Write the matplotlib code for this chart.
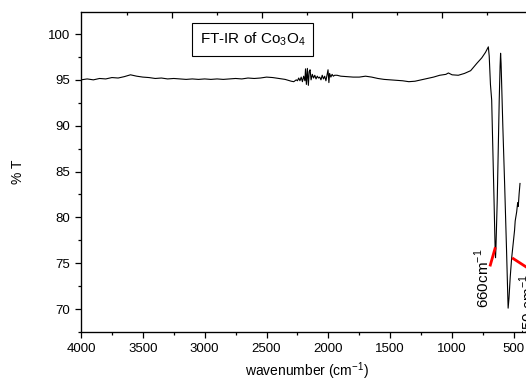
import numpy as np
import matplotlib
matplotlib.use('Agg')
import matplotlib.pyplot as plt

plt.rcParams['font.family'] = ['Liberation Sans', 'DejaVu Sans']
plt.rcParams['mathtext.fontset'] = 'custom'
plt.rcParams['mathtext.rm'] = 'Liberation Sans'

# spectrum (wavenumber, %T)
wn = [4000, 3950, 3900, 3850, 3800, 3750, 3700, 3650, 3600, 3550, 3500, 3450, 3400, 3350,
      3300, 3250, 3200, 3150, 3100, 3050, 3000, 2950, 2900, 2850, 2800, 2750, 2700, 2650,
      2600, 2550, 2500, 2450, 2400, 2350, 2300, 2280, 2260, 2250, 2240, 2230, 2220, 2210,
      2200, 2190, 2185, 2178, 2170, 2162, 2155, 2148, 2140, 2130, 2120, 2110, 2100, 2090,
      2080, 2070, 2060, 2050, 2040, 2030, 2020, 2010, 2003, 1996, 1990, 1980, 1970, 1960,
      1950, 1930, 1900, 1850, 1800, 1750, 1700, 1650, 1600, 1550, 1500, 1450, 1400, 1350,
      1300, 1250, 1200, 1150, 1100, 1050, 1030, 1000, 950, 900, 850, 800, 760, 730, 707,
      700, 690, 680, 661, 652, 649, 646, 635, 619, 612, 608, 604, 590, 575, 560, 550, 547,
      540, 530, 519, 505, 495, 490, 478, 470, 465, 458, 451]
tr = [95.0, 95.1, 95.0, 95.15, 95.1, 95.25, 95.2, 95.35, 95.55, 95.4, 95.3, 95.25, 95.15, 95.2,
      95.1, 95.15, 95.1, 95.05, 95.1, 95.05, 95.1, 95.05, 95.1, 95.05, 95.1, 95.15, 95.1, 95.2,
      95.15, 95.2, 95.3, 95.25, 95.15, 95.05, 94.85, 94.8, 95.0, 94.9, 95.2, 94.9, 95.3, 94.8,
      95.4, 94.9, 96.2, 94.5, 96.25, 94.4, 95.9, 96.1, 95.0, 95.6, 95.2, 95.5, 95.1, 95.4,
      95.2, 95.3, 95.0, 95.5, 95.1, 95.4, 94.9, 95.6, 96.1, 94.7, 95.7, 95.3, 95.6, 95.4,
      95.5, 95.5, 95.4, 95.35, 95.3, 95.3, 95.4, 95.3, 95.15, 95.05, 95.0, 94.95, 94.9, 94.8,
      94.85, 95.0, 95.15, 95.3, 95.5, 95.6, 95.75, 95.55, 95.5, 95.7, 96.0, 96.8, 97.4, 98.0, 98.6,
      97.6, 94.5, 92.8, 81.9, 76.5, 75.6, 76.5, 81.9, 92.8, 96.5, 97.9, 96.8, 90.0, 83.5, 76.5, 71.5, 70.1,
      71.2, 73.5, 75.5, 77.3, 78.6, 79.6, 80.6, 81.6, 81.2, 82.6, 83.7]

# band markers
b660_line = ([653, 691], [76.6, 74.8])
b550_line = ([505, 402], [75.5, 74.6])

top_major = [3264, 2536, 1809, 1081]
top_minor = [3628, 2900, 2173, 1445, 717]

fig = plt.figure(figsize=(5.26, 3.81), dpi=100)
ax = fig.add_axes([81/526, 1-332/381, (532.5-81)/526, 320/381])
ax.plot(wn, tr, color='black', lw=0.8)
ax.plot(*b660_line, color='red', lw=2)
ax.plot(*b550_line, color='red', lw=2)

ax.text(677, 70.1, '660cm$^{-1}$', rotation=90, ha='right', va='bottom', fontsize=11)
ax.text(467, 66.9, '550 cm$^{-1}$', rotation=90, ha='left', va='bottom', fontsize=11,
        clip_on=True)
ax.text(2610, 99.4, r'FT-IR of Co$_3$O$_4$', ha='center', va='center', fontsize=11,
        bbox=dict(boxstyle='square,pad=0.5', fc='white', ec='black', lw=0.8))

ax.set_xlim(4000, 350)
ax.set_ylim(67.5, 102.4)
ax.set_xticks([4000, 3500, 3000, 2500, 2000, 1500, 1000, 500])
ax.set_xticks(np.arange(3750, 400, -500), minor=True)
ax.set_yticks([70, 75, 80, 85, 90, 95, 100])
ax.set_yticks(np.arange(67.5, 102.5, 5), minor=True)
ax.tick_params(which='major', direction='out', length=4.5, width=0.9, labelsize=9.5)
ax.tick_params(which='minor', direction='out', length=2.5, width=0.9)
ax.spines['right'].set_visible(False)
for s in ['left', 'bottom', 'top']:
    ax.spines[s].set_linewidth(0.9)

top = ax.twiny()
top.set_xlim(ax.get_xlim())
top.set_xticks(top_major)
top.set_xticks(top_minor, minor=True)
top.set_xticklabels([])
top.tick_params(which='major', direction='in', length=4, width=0.9)
top.tick_params(which='minor', direction='in', length=2.5, width=0.9)
top.spines['right'].set_visible(False)

ax.set_xlabel('wavenumber (cm$^{-1}$)', fontsize=10, labelpad=4)
ax.set_ylabel('% T', fontsize=10, labelpad=16)

fig.savefig('out.png', dpi=100)
